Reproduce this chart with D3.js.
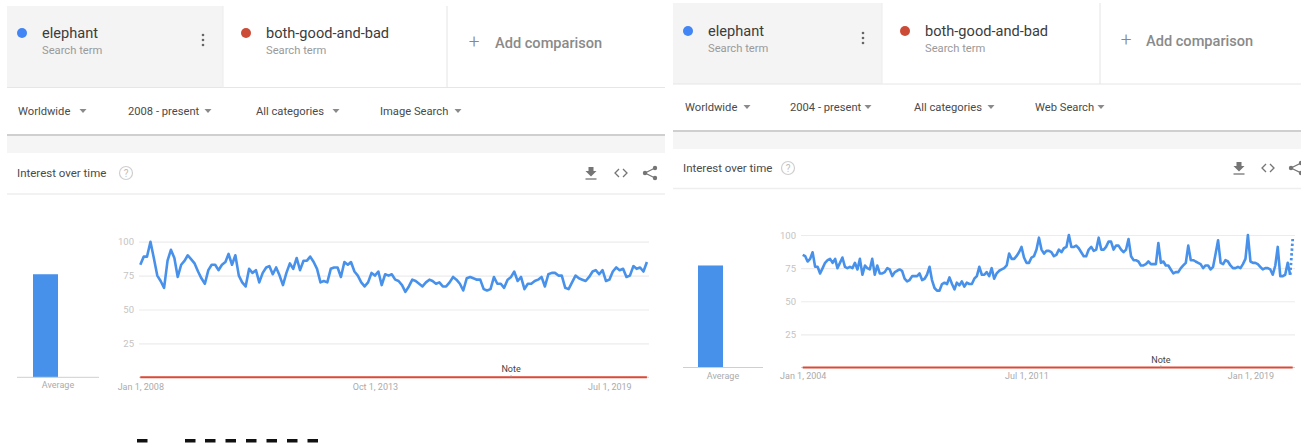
<!DOCTYPE html>
<html>
<head>
<meta charset="utf-8">
<script src="https://cdnjs.cloudflare.com/ajax/libs/d3/7.8.5/d3.min.js"></script>
<style>
  html, body { margin: 0; padding: 0; background: #fff; overflow: hidden; }
  svg { display: block; }
  text { font-family: Roboto, "Noto Sans", sans-serif; }
</style>
</head>
<body>
<script>
// values, one per month
const elephantImage = [
  83, 89, 89, 100, 88, 75, 71, 66, 86, 94,
  88, 74, 83, 86, 90, 87, 84, 78, 73, 69,
  79, 83, 83, 79, 83, 85, 91, 83, 90, 75,
  70, 67, 80, 77, 79, 70, 77, 81, 82, 76,
  81, 75, 68, 77, 84, 80, 88, 79, 86, 86,
  89, 85, 80, 70, 71, 70, 80, 81, 81, 74,
  85, 83, 85, 78, 75, 70, 67, 70, 77, 75,
  78, 68, 76, 75, 76, 72, 71, 68, 63, 67,
  72, 71, 69, 67, 70, 72, 71, 69, 70, 67,
  67, 70, 74, 72, 69, 64, 73, 74, 73, 72,
  72, 65, 64, 65, 74, 69, 69, 66, 72, 74,
  78, 71, 74, 65, 69, 69, 71, 72, 74, 67,
  76, 77, 77, 75, 75, 66, 65, 70, 75, 73,
  72, 71, 74, 78, 79, 76, 79, 71, 72, 78,
  81, 79, 80, 74, 75, 82, 80, 81, 78, 85
];
const elephantWeb = [
  85, 84, 80, 82, 87, 76, 76, 71, 75, 79,
  81, 82, 79, 82, 75, 79, 83, 76, 75, 76,
  75, 79, 74, 82, 70, 77, 75, 74, 82, 70,
  77, 71, 71, 72, 75, 74, 69, 72, 73, 74,
  73, 67, 65, 66, 69, 69, 69, 71, 66, 67,
  70, 76, 66, 60, 58, 58, 63, 64, 63, 68,
  63, 59, 64, 62, 65, 61, 64, 63, 63, 67,
  69, 76, 70, 70, 72, 69, 75, 67, 71, 73,
  74, 75, 77, 86, 82, 82, 84, 87, 91, 83,
  79, 79, 83, 84, 89, 98, 89, 86, 88, 88,
  87, 84, 85, 89, 87, 90, 91, 100, 91, 91,
  92, 90, 87, 84, 84, 89, 91, 88, 89, 98,
  89, 89, 91, 95, 95, 89, 92, 92, 89, 87,
  89, 97, 84, 81, 81, 80, 77, 77, 78, 80,
  78, 78, 78, 94, 79, 80, 77, 77, 74, 71,
  72, 72, 75, 77, 79, 92, 81, 81, 80, 79,
  78, 75, 77, 77, 74, 76, 86, 96, 79, 78,
  81, 80, 77, 75, 75, 76, 75, 78, 82, 100,
  80, 79, 79, 78, 76, 74, 75, 75, 74, 70,
  77, 91, 69, 69, 70, 79, 70, 97
];
const zeroLine = [0, 0];
const averages = [76, 77];
const yTicks = [25, 50, 75, 100];
const imageTickDates = ["2008-01-01", "2013-10-01", "2019-07-01"];
const webTickDates = ["2004-01-01", "2011-07-01", "2019-01-01"];
const noteDates = ["2017-02-01", "2016-01-01"];
const terms = ["elephant", "both-good-and-bad"];
const imageFilters = ["Worldwide", "2008 - present", "All categories", "Image Search"];
const webFilters = ["Worldwide", "2004 - present", "All categories", "Web Search"];

const w = 1301;
const h = 446;
const blue = "#4791eb";
const red = "#db4a37";

const svg = d3.select("body").append("svg").attr("width", w).attr("height", h);
const parseDay = d3.utcParse("%Y-%m-%d");
const tickFormat = d3.utcFormat("%b %-d, %Y");

// text helper so the header code stays short
function label(g, x, y, txt, size, color, weight, anchor) {
  return g.append("text")
    .attr("x", x).attr("y", y)
    .attr("font-size", size)
    .attr("fill", color)
    .attr("font-weight", weight || 400)
    .attr("text-anchor", anchor || "start")
    .text(txt);
}

function hline(g, x1, x2, y, color, width) {
  g.append("line").attr("x1", x1).attr("x2", x2).attr("y1", y).attr("y2", y)
    .attr("stroke", color).attr("stroke-width", width);
}

function vline(g, x, y1, y2, color) {
  g.append("line").attr("x1", x).attr("x2", x).attr("y1", y1).attr("y2", y2)
    .attr("stroke", color).attr("stroke-width", 1);
}

function triangle(g, x, y) {
  g.append("path")
    .attr("d", `M${x - 3.5},${y - 2}L${x + 3.5},${y - 2}L${x},${y + 2}Z`)
    .attr("fill", "#8a8a8a");
}

function header(p) {
  const g = svg.append("g");
  g.append("rect").attr("x", p.left).attr("y", p.top)
    .attr("width", p.cell1 - p.left).attr("height", p.divider - p.top).attr("fill", "#f4f4f4");
  hline(g, p.left, p.right, p.divider, "#e6e6e6", 1);
  vline(g, p.cell1, p.top, p.divider, "#ececec");
  vline(g, p.cell2, p.top, p.divider, "#e4e4e4");

  g.append("circle").attr("cx", p.dot1).attr("cy", p.termY).attr("r", 5).attr("fill", "#4285f4");
  g.append("circle").attr("cx", p.dot2).attr("cy", p.termY).attr("r", 5).attr("fill", "#cc4b37");
  label(g, p.text1, p.termY + 5, terms[0], 14.6, "#3c3c3c");
  label(g, p.text2, p.termY + 5, terms[1], 14.6, "#3c3c3c");
  label(g, p.text1, p.termY + 21, "Search term", 11.2, "#9a9a9a");
  label(g, p.text2, p.termY + 21, "Search term", 11.2, "#9a9a9a");

  // three dots menu
  [-5, 0, 5].forEach(d => {
    g.append("circle").attr("cx", p.kebab).attr("cy", p.termY + 7 + d).attr("r", 1.3).attr("fill", "#666");
  });

  label(g, p.plus, p.termY + 15, "+", 19, "#888", 300, "middle");
  label(g, p.add, p.termY + 15, "Add comparison", 14.6, "#8a8a8a", 500);

  imageOrWeb(p).forEach((f, i) => {
    label(g, p.filterX[i], p.filterY + 4, f, 11.2, "#4a4a4a");
    triangle(g, p.triX[i], p.filterY);
  });

  hline(g, p.left, p.right, p.thick, "#cfcfcf", 2);
  g.append("rect").attr("x", p.left).attr("y", p.thick + 1)
    .attr("width", p.right - p.left).attr("height", 17).attr("fill", "#f5f5f5");

  label(g, p.titleX, p.titleY + 4, "Interest over time", 11.5, "#4a4a4a");
  g.append("circle").attr("cx", p.helpX).attr("cy", p.titleY).attr("r", 6.5)
    .attr("fill", "none").attr("stroke", "#cfcfcf").attr("stroke-width", 1.2);
  label(g, p.helpX, p.titleY + 3.5, "?", 10, "#bdbdbd", 400, "middle");
  hline(g, p.left, p.right, p.titleLine, "#eeeeee", 1.5);

  // download
  const dx = p.icons[0], y = p.titleY;
  g.append("path").attr("d", `M${dx - 2.5},${y - 6}h5v4h3l-5.5,5.5l-5.5,-5.5h3z`).attr("fill", "#757575");
  hline(g, dx - 5.5, dx + 5.5, y + 6, "#757575", 1.3);
  // code
  const cx = p.icons[1];
  g.append("path").attr("d", `M${cx - 2},${y - 4}l-4,4l4,4M${cx + 2},${y - 4}l4,4l-4,4`)
    .attr("fill", "none").attr("stroke", "#757575").attr("stroke-width", 1.3);
  // share
  const sx = p.icons[2];
  g.append("path").attr("d", `M${sx + 5},${y - 5}L${sx - 5},${y}L${sx + 5},${y + 5}`)
    .attr("fill", "none").attr("stroke", "#757575").attr("stroke-width", 1.2);
  [[5, -5], [-5, 0], [5, 5]].forEach(c => {
    g.append("circle").attr("cx", sx + c[0]).attr("cy", y + c[1]).attr("r", 2.2).attr("fill", "#757575");
  });
}

function imageOrWeb(p) {
  return p.filters;
}

function chart(p) {
  const g = svg.append("g");
  const months = d3.utcMonth.range(parseDay(p.start), d3.utcMonth.offset(parseDay(p.start), p.values.length));
  const x = d3.scaleUtc().domain([months[0], months[months.length - 1]]).range([p.x0, p.x1]);
  const y = d3.scaleLinear().domain([0, 100]).range([p.y0, p.y100]);

  // y axis, its ticks are the gridlines
  const yAxis = d3.axisLeft(y).tickValues(yTicks).tickSize(p.gridRight - p.gridLeft).tickPadding(5);
  const ya = g.append("g").attr("transform", `translate(${p.gridRight},0)`).call(yAxis);
  ya.select(".domain").remove();
  ya.selectAll("line").attr("stroke", "#ececec").attr("stroke-width", 1.2);
  ya.selectAll("text").attr("fill", "#c4c4c4").attr("font-size", 9.5).attr("font-family", "Roboto");

  hline(g, p.gridLeft, p.gridRight, p.y0, "#d0d0d0", 1);

  const xAxis = d3.axisBottom(x).tickValues(p.ticks.map(parseDay)).tickFormat(tickFormat).tickSize(0).tickPadding(p.xPad);
  const xa = g.append("g").attr("transform", `translate(0,${p.y0})`).call(xAxis);
  xa.select(".domain").remove();
  xa.selectAll("text").attr("fill", "#ababab").attr("font-size", 9).attr("font-family", "Roboto");

  const line = d3.line().x(d => x(d.date)).y(d => y(d.value));
  const points = months.map((date, i) => ({ date: date, value: p.values[i] }));
  const solidEnd = p.partial ? points.length - 1 : points.length;

  g.append("path").datum(points.slice(0, solidEnd)).attr("d", line)
    .attr("fill", "none").attr("stroke", blue).attr("stroke-width", 2.6).attr("stroke-linejoin", "round");
  if (p.partial) {
    g.append("path").datum(points.slice(solidEnd - 1)).attr("d", line)
      .attr("fill", "none").attr("stroke", blue).attr("stroke-width", 2.8).attr("stroke-dasharray", "2.4 2.4");
  }

  // second term sits on the floor for the whole range
  const flat = [months[0], months[months.length - 1]].map((date, i) => ({ date: date, value: zeroLine[i] }));
  g.append("path").datum(flat).attr("d", line).attr("fill", "none").attr("stroke", red).attr("stroke-width", 2);

  // note marker
  const nx = x(parseDay(p.note));
  vline(g, nx, p.y0 - 2, p.y0, "#999");
  label(g, nx, p.y0 - 5, "Note", 9, "#444", 400, "middle");

  // average bar
  const bar = d3.scaleBand().domain(["", "Average"]).range([p.barX - 25, p.barX + 25]);
  g.append("rect")
    .attr("x", bar("")).attr("width", bar.bandwidth())
    .attr("y", y(p.average)).attr("height", y(0) - y(p.average))
    .attr("fill", blue);
  hline(g, p.barLeft, p.barRight, p.y0, "#cfcfcf", 1);
  label(g, p.barX, p.y0 + 11, "Average", 9, "#ababab", 400, "middle");
}

const leftPanel = {
  left: 7, right: 665, top: 6, divider: 87.5, cell1: 223, cell2: 447,
  dot1: 22, dot2: 246, termY: 33, text1: 42, text2: 266, kebab: 203, plus: 474, add: 495,
  filters: imageFilters, filterY: 111,
  filterX: [18, 128, 256, 380], triX: [83, 208, 336, 458],
  thick: 135, titleX: 17, titleY: 173, helpX: 126, titleLine: 194, icons: [591, 621, 650],
  values: elephantImage, start: "2008-01-01", ticks: imageTickDates, note: noteDates[0], average: averages[0],
  x0: 140.3, x1: 646.9, y0: 377.3, y100: 241.7, gridLeft: 139, gridRight: 649, xPad: 6,
  barX: 58, barLeft: 17, barRight: 99, partial: false
};

const rightPanel = {
  left: 673, right: 1301, top: 3, divider: 84, cell1: 882, cell2: 1100,
  dot1: 688, dot2: 905, termY: 31, text1: 708, text2: 925, kebab: 863, plus: 1126, add: 1146,
  filters: webFilters, filterY: 107,
  filterX: [685, 790, 914, 1035], triX: [747, 868, 991, 1101],
  thick: 131, titleX: 683, titleY: 168, helpX: 788, titleLine: 188.5, icons: [1239, 1268, 1296],
  values: elephantWeb, start: "2004-01-01", ticks: webTickDates, note: noteDates[1], average: averages[1],
  x0: 802.7, x1: 1292.7, y0: 367.5, y100: 235, gridLeft: 801, gridRight: 1295, xPad: 5,
  barX: 723, barLeft: 683, barRight: 763, partial: true
};

header(leftPanel);
chart(leftPanel);
header(rightPanel);
chart(rightPanel);

// black dashes under the left chart
const dashes = svg.append("g");
[137, 185, 205, 225.5, 246, 266.5, 287, 307.5].forEach(dx => {
  dashes.append("rect").attr("x", dx).attr("y", 439).attr("width", 10.5).attr("height", 3.5).attr("fill", "#111");
});
</script>
</body>
</html>
